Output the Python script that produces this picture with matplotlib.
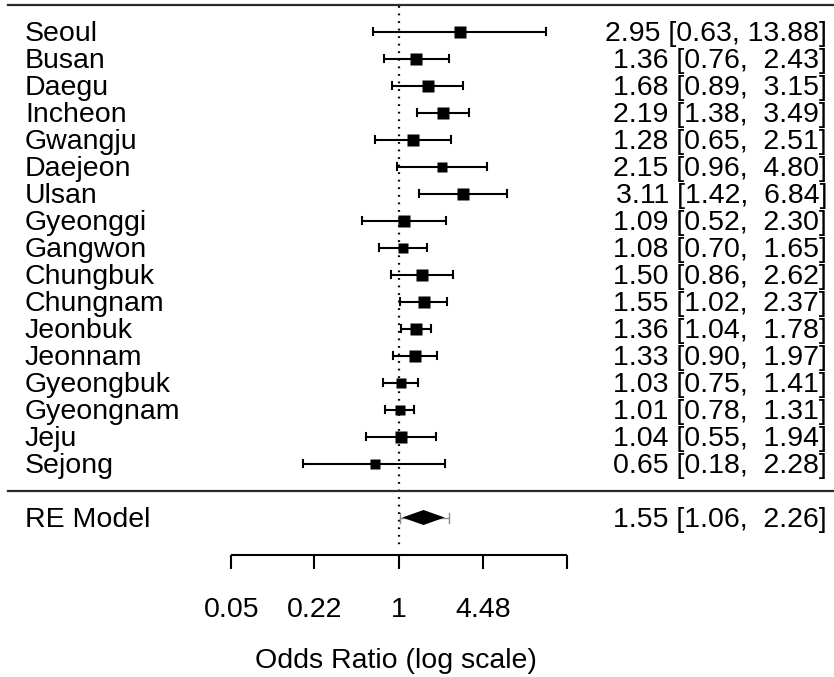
import numpy as np
import matplotlib
matplotlib.use("Agg")
import matplotlib.pyplot as plt

# ---- data ----
cities = ["Seoul", "Busan", "Daegu", "Incheon", "Gwangju", "Daejeon", "Ulsan",
          "Gyeonggi", "Gangwon", "Chungbuk", "Chungnam", "Jeonbuk", "Jeonnam",
          "Gyeongbuk", "Gyeongnam", "Jeju", "Sejong"]
est = [2.95, 1.36, 1.68, 2.19, 1.28, 2.15, 3.11, 1.09, 1.08, 1.50, 1.55, 1.36,
       1.33, 1.03, 1.01, 1.04, 0.65]
lower = [0.63, 0.76, 0.89, 1.38, 0.65, 0.96, 1.42, 0.52, 0.70, 0.86, 1.02, 1.04,
         0.90, 0.75, 0.78, 0.55, 0.18]
upper = [13.88, 2.43, 3.15, 3.49, 2.51, 4.80, 6.84, 2.30, 1.65, 2.62, 2.37, 1.78,
         1.97, 1.41, 1.31, 1.94, 2.28]
box_px = [11.5, 12, 11.5, 11.5, 11.5, 9.5, 11.5, 11.5, 9.5, 11.5, 11.5, 11.5, 11.5,
          10.5, 10, 11.5, 10.5]

re_label = "RE Model"
re_est, re_lower, re_upper = 1.55, 1.06, 2.26
pi_lower, pi_upper = 1.01, 2.43

tick_vals = [0.05, 0.22, 1, 4.48, 20.09]
tick_labels = ["0.05", "0.22", "1", "4.48", ""]
xlabel = "Odds Ratio (log scale)"

# ---- layout ----
W, H, DPI = 834, 677, 100
X0, SX = 399.0, 56.0      # pixel of log(1), pixels per log unit
Y0, SY = 490.5, 27.0      # pixel of row 0, pixels per row

plt.rcParams["font.family"] = ["Liberation Sans", "DejaVu Sans"]
FS = 20.5

fig = plt.figure(figsize=(W / DPI, H / DPI), dpi=DPI)
ax = fig.add_axes([0, 0, 1, 1])
ax.set_xlim((0 - X0) / SX, (W - X0) / SX)
ax.set_ylim((Y0 - H) / SY, Y0 / SY)
ax.axis("off")


def px(x):
    return (x - X0) / SX


def py(y):
    return (Y0 - y) / SY


k = len(cities)
rows = np.arange(k, 0, -1)
cap = 3.8 / SY
base_off = 9.7 / SY
LW = 1.5

# reference line (dotted at OR=1)
ax.plot([0, 0], [py(6), py(549)], color="black", lw=1.6,
        linestyle=(0, (0.8, 2.6)), zorder=1)

# horizontal lines
ax.plot([px(8), px(W)], [py(5), py(5)], color="#2a2a2a", lw=1.6, zorder=2)
ax.plot([px(8), px(W)], [0, 0], color="#2a2a2a", lw=1.6, zorder=2)

lest = np.log(est)
llo = np.log(lower)
lhi = np.log(upper)

for r, e, lo, hi, s, name, ee, l0, h0 in zip(rows, lest, llo, lhi, box_px,
                                             cities, est, lower, upper):
    ax.plot([lo, hi], [r, r], color="black", lw=LW, solid_capstyle="butt", zorder=3)
    ax.plot([lo, lo], [r - cap, r + cap], color="black", lw=LW, zorder=3)
    ax.plot([hi, hi], [r - cap, r + cap], color="black", lw=LW, zorder=3)
    ax.plot([e], [r], marker="s", ms=s * 72 / DPI, color="black", mec="none", zorder=4)
    ax.text(px(25), r - base_off, name, ha="left", va="baseline", fontsize=FS)
    ax.text(px(827), r - base_off, f"{ee:.2f} [{l0:.2f}, {h0:5.2f}]",
            ha="right", va="baseline", fontsize=FS)

# RE model
rr = -1
pl, pu = np.log(pi_lower), np.log(pi_upper)
pcap = 5 / SY
ax.plot([pl, pu], [rr, rr], color="#8c8c8c", lw=1.0, zorder=3)
ax.plot([pl, pl], [rr - pcap, rr + pcap], color="#8c8c8c", lw=1.0, zorder=3)
ax.plot([pu, pu], [rr - pcap, rr + pcap], color="#8c8c8c", lw=1.0, zorder=3)
dh = 7.5 / SY
ax.fill([np.log(re_lower), np.log(re_est), np.log(re_upper), np.log(re_est)],
        [rr, rr + dh, rr, rr - dh], color="black", lw=0, zorder=4)
ax.text(px(25), rr - base_off, re_label, ha="left", va="baseline", fontsize=FS)
ax.text(px(827), rr - base_off, f"{re_est:.2f} [{re_lower:.2f}, {re_upper:5.2f}]",
        ha="right", va="baseline", fontsize=FS)

# x axis
tpos = np.log(tick_vals)
ax.plot([tpos[0], tpos[-1]], [py(555), py(555)], color="black", lw=LW,
        solid_capstyle="butt")
for t, lab in zip(tpos, tick_labels):
    ax.plot([t, t], [py(555), py(569)], color="black", lw=LW, solid_capstyle="butt")
    ax.text(t, py(617), lab, ha="center", va="baseline", fontsize=FS)
ax.text(px(396), py(668), xlabel, ha="center", va="baseline", fontsize=FS)

fig.savefig("out.png", dpi=DPI)
